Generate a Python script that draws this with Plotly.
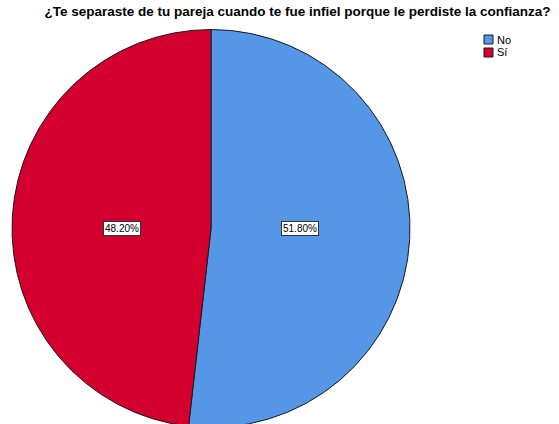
import math
import plotly.graph_objects as go

categories = ["No", "Sí"]
values = [51.80, 48.20]
colors = ["#5596E6", "#D3002F"]
title_text = "¿Te separaste de tu pareja cuando te fue infiel porque le perdiste la confianza?"

W, H = 559, 428
dom_x = [12 / W, 410 / W]
dom_y = [0.0, (H - 29) / H]

fig = go.Figure(go.Pie(
    labels=categories,
    values=values,
    marker=dict(colors=colors, line=dict(color="#1a1a1a", width=1)),
    sort=False,
    direction="clockwise",
    rotation=0,
    textinfo="none",
    hoverinfo="label+percent",
    domain=dict(x=dom_x, y=dom_y),
    showlegend=False,
))

# label positions derived from slice mid-angles
cx_px = (dom_x[0] + dom_x[1]) / 2 * W
cy_px = (dom_y[0] + dom_y[1]) / 2 * H
r_px = min((dom_x[1] - dom_x[0]) * W, (dom_y[1] - dom_y[0]) * H) / 2
total = sum(values)
cum = 0.0
for v in values:
    mid = 90 - (cum + v / 2) / total * 360
    cum += v
    x_px = cx_px + 0.45 * r_px * math.cos(math.radians(mid))
    fig.add_annotation(
        x=x_px / W, y=cy_px / H, xref="paper", yref="paper",
        xanchor="center", yanchor="middle",
        text=f"{v:.2f}%", showarrow=False,
        font=dict(family="Arial, Liberation Sans", size=10, color="black"),
        bgcolor="white", bordercolor="#333333", borderwidth=1, borderpad=1,
    )

# legend (SPSS style: small squares with labels)
for i, (cat, col) in enumerate(zip(categories, colors)):
    top = 35 + i * 13
    fig.add_shape(type="rect", xref="paper", yref="paper",
                  x0=484 / W, x1=493 / W, y0=1 - (top + 9) / H, y1=1 - top / H,
                  fillcolor=col, line=dict(color="#1a1a1a", width=1))
    fig.add_annotation(x=495 / W, y=1 - (top + 4.5) / H, xref="paper", yref="paper",
                       text=cat, showarrow=False, xanchor="left", yanchor="middle",
                       font=dict(family="Arial, Liberation Sans", size=11, color="black"))

fig.update_layout(
    width=W, height=H,
    margin=dict(l=0, r=0, t=0, b=0),
    paper_bgcolor="white",
    plot_bgcolor="white",
    title=dict(text="<b>" + title_text + "</b>", x=297.5 / W, xanchor="center",
               y=1 - 11 / H, yanchor="middle",
               font=dict(family="Arial, Liberation Sans", size=13.5, color="black")),
    showlegend=False,
)

fig.write_html("out.html", config={"displayModeBar": False},
               post_script="document.body.style.margin='0';document.body.style.overflow='hidden';")
